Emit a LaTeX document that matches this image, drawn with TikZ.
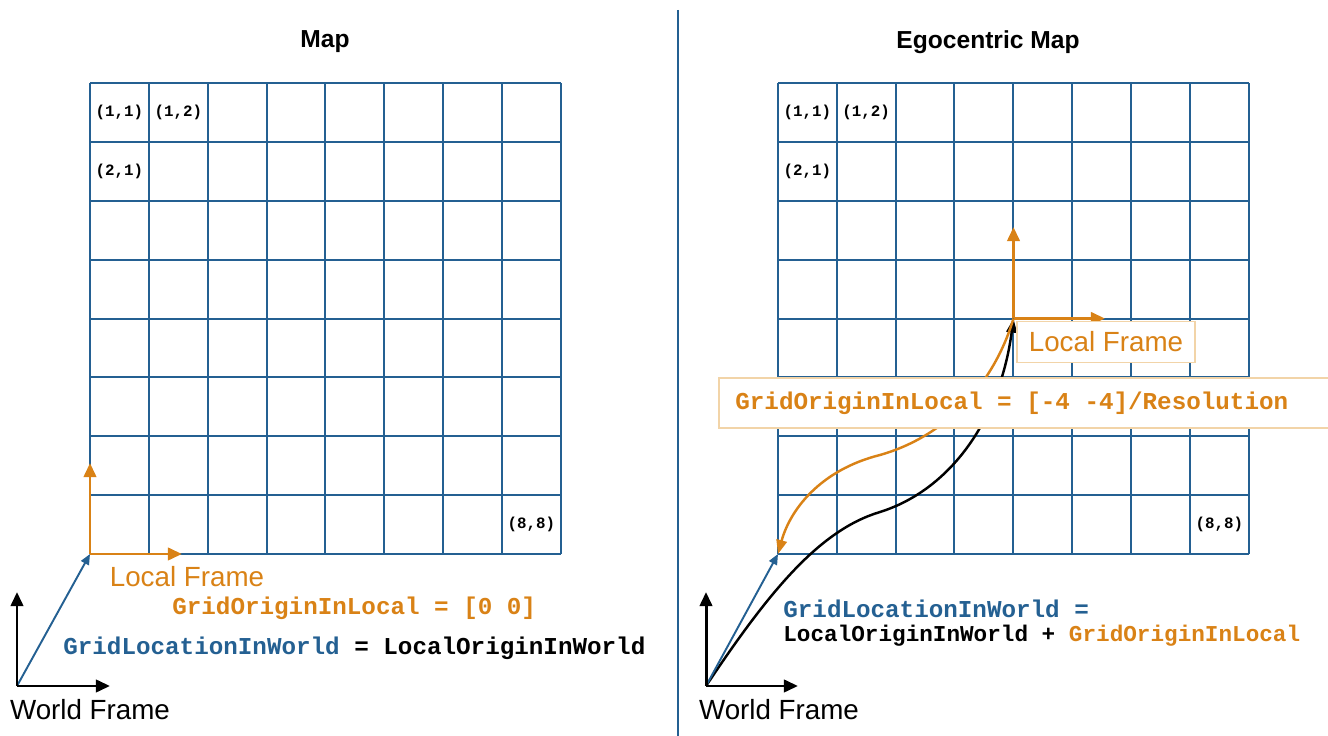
\documentclass[tikz,border=0pt]{standalone}
\usepackage{fontspec}
\setmainfont{Liberation Sans}
\setmonofont{Liberation Mono}
\usepackage{tikz}
\usetikzlibrary{arrows.meta}
\usetikzlibrary{positioning}

\definecolor{gridblue}{RGB}{36,96,146}
\definecolor{frameorange}{RGB}{217,130,22}
\definecolor{boxorange}{RGB}{242,212,168}

\begin{document}
\begin{tikzpicture}[x=0.02cm, y=0.02cm]
		\tikzstyle{gridline}=[draw=gridblue, line width=1.1pt]
		\tikzstyle{cell}=[font=\ttfamily\bfseries\fontsize{9}{11}\selectfont, inner sep=0pt]
		\tikzstyle{codetext}=[font=\ttfamily\bfseries\fontsize{13.8}{16}\selectfont, inner sep=0pt, anchor=west]
		\tikzstyle{frametext}=[font=\fontsize{15.8}{18}\selectfont, inner sep=0pt]
		\tikzstyle{heading}=[font=\bfseries\fontsize{14}{16}\selectfont]
		\tikzstyle{localaxis}=[frameorange, line width=1.7pt, -{Triangle[length=8pt,width=7pt]}]
		\tikzstyle{worldaxis}=[black, line width=1.7pt, -{Triangle[length=8pt,width=7pt]}]
		\tikzstyle{worldvec}=[gridblue, line width=1.1pt, -{Triangle[length=6pt,width=5pt]}]
		\tikzstyle{labelbox}=[draw=boxorange, fill=white, line width=0.9pt]

		\useasboundingbox (0,0) rectangle (1328,736);

    % Divider
		\coordinate (divtop) at (678,726);
		\coordinate (divbot) at (678,0);
		\draw[gridblue, line width=0.8pt] (divtop) -- (divbot);

    % Map
		\node[heading](maptitle) at (325,694){Map};
		\begin{scope}[shift={(1.8cm,3.64cm)}, x=1.1775cm, y=1.1775cm]
			\draw[gridline, step=1.1775cm] (0,0) grid (8,8);
			\node[cell](m11) at (0.5,7.5){(1,1)};
			\node[cell](m12) at (1.5,7.5){(1,2)};
			\node[cell](m21) at (0.5,6.5){(2,1)};
			\node[cell](m88) at (7.5,0.5){(8,8)};
		\end{scope}

		\coordinate (mworld) at (17,50);
		\coordinate (mworldx) at (110,50);
		\coordinate (mworldy) at (17,144);
		\coordinate (mlocal) at (90,182);
		\coordinate (mlocalx) at (182,182);
		\coordinate (mlocaly) at (90,273);

		\draw[worldvec] (mworld) -- (mlocal);
		\draw[worldaxis] (mworld) -- (mworldx);
		\draw[worldaxis] (mworld) -- (mworldy);
		\draw[localaxis] (mlocal) -- (mlocalx);
		\draw[localaxis] (mlocal) -- (mlocaly);

		\node[frametext, text=frameorange](mlocallabel) at (187,159){Local Frame};
		\node[frametext](mworldlabel) at (90,26){World Frame};
		\node[codetext, text=frameorange](mgridorigin) at (172,128){GridOriginInLocal = [0 0]};
		\node[codetext](mgridloc) at (63,88){\textcolor{gridblue}{GridLocationInWorld} = LocalOriginInWorld};

    % Egocentric map
		\node[heading](egotitle) at (988,694){Egocentric Map};
		\begin{scope}[shift={(15.56cm,3.64cm)}, x=1.1775cm, y=1.1775cm]
			\draw[gridline, step=1.1775cm] (0,0) grid (8,8);
			\node[cell](e11) at (0.5,7.5){(1,1)};
			\node[cell](e12) at (1.5,7.5){(1,2)};
			\node[cell](e21) at (0.5,6.5){(2,1)};
			\node[cell](e88) at (7.5,0.5){(8,8)};
		\end{scope}

		\coordinate (eworld) at (706,50);
		\coordinate (eworldx) at (798,50);
		\coordinate (eworldy) at (706,144);
		\coordinate (egrid) at (778,182);
		\coordinate (elocal) at (1013.5,417.5);
		\coordinate (elocalx) at (1105,417.5);
		\coordinate (elocaly) at (1013.5,509);

		\draw[black, line width=1.4pt, -{Triangle[length=8pt,width=6pt]}] (eworld) .. controls (770,146) and (820,206) .. (880,224) .. controls (950,246) and (1000,316) .. (elocal);
		\draw[frameorange, line width=1.4pt, -{Triangle[length=8pt,width=6pt]}] (elocal) .. controls (995,356) and (950,301) .. (880,281) .. controls (820,266) and (790,226) .. (egrid);

		\draw[worldvec] (eworld) -- (egrid);
		\draw[worldaxis] (eworld) -- (eworldx);
		\draw[worldaxis] (eworld) -- (eworldy);
		\draw[localaxis] (elocal) -- (elocalx);
		\draw[localaxis] (elocal) -- (elocaly);

		\node[labelbox, frametext, text=frameorange, minimum width=3.56cm, minimum height=0.82cm](elocallabel) at (1106,394){Local Frame};
		\node[labelbox, minimum width=12.34cm, minimum height=1cm, anchor=west](eoriginbox) at (718,333){};
		\node[codetext, text=frameorange](egridorigin) at (735,333){GridOriginInLocal = [-4 -4]/Resolution};
		\node[frametext](eworldlabel) at (779,26){World Frame};
		\node[codetext, text=gridblue](egridloc) at (783,127){GridLocationInWorld =};
		\node[codetext, font=\ttfamily\bfseries\fontsize{12.9}{15}\selectfont](esum) at (783,100){LocalOriginInWorld + \textcolor{frameorange}{GridOriginInLocal}};

  \end{tikzpicture}
\end{document}
